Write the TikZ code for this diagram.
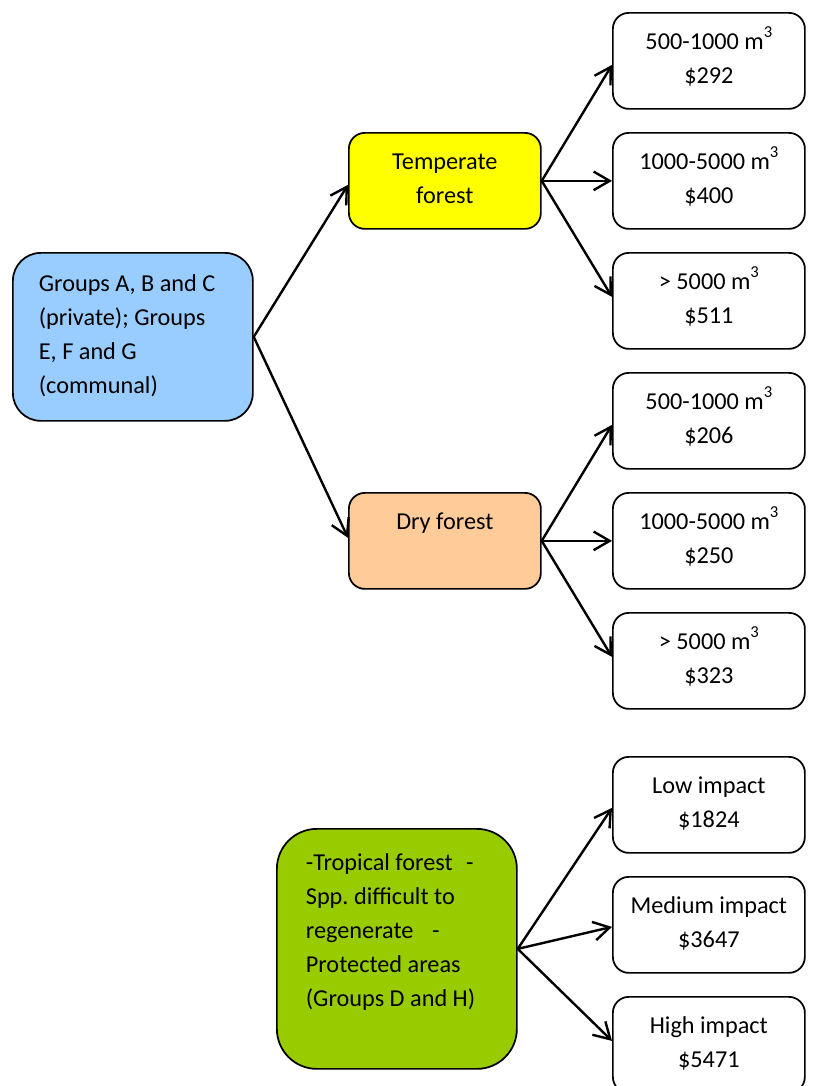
\documentclass[tikz,border=0pt]{standalone}
\usepackage{fontspec}
\setmainfont{Carlito}
\usetikzlibrary{arrows.meta}
\definecolor{cblue}{HTML}{99CCFF}
\definecolor{cyellow}{HTML}{FFFF00}
\definecolor{corange}{HTML}{FFCC99}
\definecolor{cgreen}{HTML}{99CC00}
\newcommand{\cubic}{\raisebox{0.5em}{\fontsize{12.5pt}{12.5pt}\selectfont 3}}
\frenchspacing
\begin{document}
\begin{tikzpicture}[x=0.75pt,y=-0.75pt,
  base/.style={draw=black, line width=1.3pt, inner sep=0pt, anchor=north west,
    font=\fontsize{18.2pt}{25.5pt}\selectfont},
  box/.style={base, rounded corners=12pt, minimum width=144pt, minimum height=72pt,
    text width=144pt, align=flush center, text height=27.75pt, text depth=44.25pt},
  leaf/.style={box, fill=white},
  conn/.style={line width=1.8pt, line cap=round, -{Straight Barb[length=12pt,width=14pt]}}
]
\fill[white] (0,0) rectangle (817,1086);
\useasboundingbox (0,0) rectangle (817,1086);

% main boxes
\node[base, fill=cblue, rounded corners=21pt, minimum width=180pt, minimum height=126pt,
  text width=141pt, align=flush left, text height=29pt, text depth=97pt] (grp) at (12,252)
  {Groups A, B and C\\(private); Groups\\E, F and G\\(communal)};
\node[box, fill=cyellow] (temp) at (348,132) {Temperate\\forest};
\node[box, fill=corange] (dry) at (348,492) {Dry forest};
\node[base, fill=cgreen, rounded corners=30pt, minimum width=180pt, minimum height=180pt,
  text width=136.5pt, align=flush left, text height=31.2pt, text depth=148.8pt] (trop) at (276,828)
  {-Tropical forest\hspace{10pt}-\\Spp. difficult to\\regenerate\hspace{14pt}-\\Protected areas\\(Groups D and H)};

% leaves
\node[leaf] (t1) at (612,12) {500-1000 m\cubic\\\$292};
\node[leaf] (t2) at (612,132) {1000-5000 m\cubic\\\$400};
\node[leaf] (t3) at (612,252) {> 5000 m\cubic\\\$511};
\node[leaf] (d1) at (612,372) {500-1000 m\cubic\\\$206};
\node[leaf] (d2) at (612,492) {1000-5000 m\cubic\\\$250};
\node[leaf] (d3) at (612,612) {> 5000 m\cubic\\\$323};
\node[leaf] (p1) at (612,756) {Low impact\\\$1824};
\node[leaf] (p2) at (612,876) {Medium impact\\\$3647};
\node[leaf] (p3) at (612,996) {High impact\\\$5471};

% connectors
\draw[conn] (grp.east) -- ([yshift=-3pt]temp.west);
\draw[conn] (grp.east) -- ([yshift=2.25pt]dry.west);
\draw[conn] (temp.east) -- ([yshift=-3pt]t1.west);
\draw[conn] (temp.east) -- (t2.west);
\draw[conn] (temp.east) -- ([yshift=3pt]t3.west);
\draw[conn] (dry.east) -- ([yshift=-3pt]d1.west);
\draw[conn] (dry.east) -- (d2.west);
\draw[conn] (dry.east) -- ([yshift=3pt]d3.west);
\draw[conn] (trop.east) -- ([yshift=-2.25pt]p1.west);
\draw[conn] (trop.east) -- ([yshift=-1.5pt]p2.west);
\draw[conn] (trop.east) -- ([yshift=3pt]p3.west);
\end{tikzpicture}
\end{document}
